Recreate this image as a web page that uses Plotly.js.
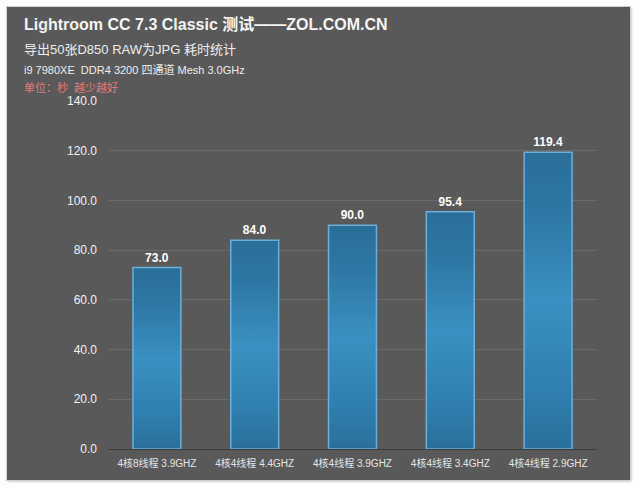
<!DOCTYPE html>
<html>
<head>
<meta charset="utf-8">
<script src="https://cdn.plot.ly/plotly-3.0.1.min.js"></script>
<style>
  html, body { margin: 0; padding: 0; background: #ffffff; width: 640px; height: 491px; overflow: hidden; }
  #panel { position: absolute; left: 7px; top: 7px; width: 623px; height: 473px;
           box-shadow: 1px 1px 3px rgba(0,0,0,0.35); outline: 1px solid #d0d0d0; }
</style>
</head>
<body>
<div id="panel"></div>
<script>
const categories = ['4核8线程 3.9GHZ', '4核4线程 4.4GHZ', '4核4线程 3.9GHZ', '4核4线程 3.4GHZ', '4核4线程 2.9GHZ'];
const seconds = [73.0, 84.0, 90.0, 95.4, 119.4];
const tickValues = [0, 20, 40, 60, 80, 100, 120, 140];
const tickLabels = ['0.0', '20.0', '40.0', '60.0', '80.0', '100.0', '120.0', '140.0'];
const titleText = 'Lightroom CC 7.3 Classic 测试——ZOL.COM.CN';
const subtitleText = '导出50张D850 RAW为JPG 耗时统计';
const specText = 'i9 7980XE  DDR4 3200 四通道 Mesh 3.0GHz';
const unitText = '单位：秒  越少越好';

const W = 623, H = 473;
const M = { l: 101, r: 33, t: 94, b: 31 };
const plotW = W - M.l - M.r, plotH = H - M.t - M.b;
const px2x = x => (x - M.l) / plotW;
const py2y = y => 1 + (M.t - y) / plotH;

const FONT = '"Liberation Sans", Arial, "Noto Sans CJK SC", sans-serif';

const trace = {
  type: 'bar',
  x: categories,
  y: seconds,
  width: 0.49,
  marker: { color: '#2f80b0', line: { color: '#6cb0d8', width: 1.5 } },
  text: seconds.map(v => v.toFixed(1)),
  textposition: 'outside',
  cliponaxis: false,
  textfont: { family: FONT, size: 12, color: '#ffffff', weight: 'bold' },
  hoverinfo: 'none'
};

const ann = (text, ypx, size, color, bold) => ({
  text: bold ? '<b>' + text + '</b>' : text,
  xref: 'paper', yref: 'paper',
  x: px2x(15), y: py2y(ypx),
  xanchor: 'left', yanchor: 'middle',
  showarrow: false,
  font: { family: FONT, size: size, color: color }
});

const layout = {
  width: W, height: H,
  margin: M,
  paper_bgcolor: '#595959',
  plot_bgcolor: '#595959',
  showlegend: false,
  bargap: 0.51,
  xaxis: {
    type: 'category',
    showgrid: false,
    showline: true, linecolor: '#3c3c3c', linewidth: 1,
    zeroline: false,
    ticks: '',
    tickfont: { family: FONT, size: 10, color: '#e6e6e6' },
    ticklabelstandoff: 5
  },
  yaxis: {
    range: [0, 140],
    tickvals: tickValues,
    ticktext: tickLabels,
    showgrid: true, gridcolor: '#6a6a6a', gridwidth: 1,
    zeroline: false,
    showline: false,
    ticks: '',
    tickfont: { family: FONT, size: 12, color: '#f2f2f2' },
    ticklabelstandoff: 10
  },
  annotations: [
    ann(titleText, 18, 16, '#f4f4f4', true),
    ann(subtitleText, 43, 13, '#eeeeee', false),
    ann(specText, 62, 11, '#eeeeee', false),
    ann(unitText, 80, 11, '#e57a7a', false)
  ]
};

Plotly.newPlot('panel', [trace], layout, { staticPlot: true, displayModeBar: false }).then(gd => {
  const svg = gd.querySelector('svg.main-svg');
  const ns = 'http://www.w3.org/2000/svg';
  let defs = svg.querySelector('defs');
  if (!defs) { defs = document.createElementNS(ns, 'defs'); svg.insertBefore(defs, svg.firstChild); }
  const g = document.createElementNS(ns, 'linearGradient');
  g.setAttribute('id', 'barGrad');
  g.setAttribute('x1', '0'); g.setAttribute('y1', '0');
  g.setAttribute('x2', '0'); g.setAttribute('y2', '1');
  [['0', '#2a6e99'], ['0.2', '#2d77a5'], ['0.5', '#3a90c2'], ['0.8', '#2f7fb0'], ['1', '#2a6f9b']].forEach(([o, c]) => {
    const s = document.createElementNS(ns, 'stop');
    s.setAttribute('offset', o); s.setAttribute('stop-color', c);
    g.appendChild(s);
  });
  defs.appendChild(g);
  gd.querySelectorAll('.bars .point path').forEach(p => {
    p.style.fill = 'url(#barGrad)';
    p.style.fillOpacity = '1';
  });
});
</script>
</body>
</html>
